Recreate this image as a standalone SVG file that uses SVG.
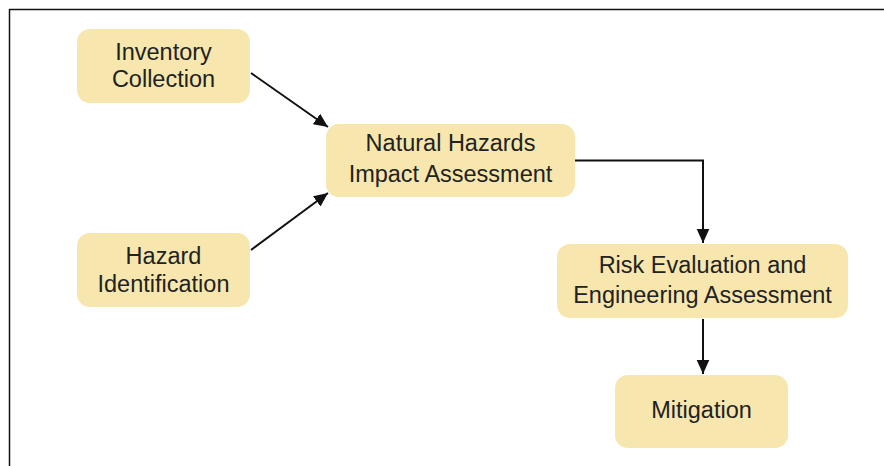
<svg xmlns="http://www.w3.org/2000/svg" width="884" height="466" viewBox="0 0 884 466">
<style>
.box{fill:#F7E7AE;stroke:none}
.lbl{font-family:"Liberation Sans",Arial,sans-serif;font-size:23.5px;fill:#222;text-anchor:middle}
.con{stroke:#111;stroke-width:2;fill:none}
</style>
<defs>
<marker id="ah2" viewBox="0 0 10 10" refX="10" refY="5" markerWidth="14" markerHeight="14" markerUnits="userSpaceOnUse" orient="auto">
<path d="M0,0.5 L10,5 L0,9.5 z" fill="#111"/>
</marker>
</defs>
<rect x="0" y="0" width="884" height="466" fill="#fff"/>
<g id="frame">
<line x1="9" y1="9.5" x2="884" y2="9.5" stroke="#111" stroke-width="1.5"/>
<line x1="9.5" y1="9" x2="9.5" y2="466" stroke="#111" stroke-width="1.5"/>
</g>
<g id="connectors">
<line class="con" x1="251" y1="73" x2="328" y2="127" marker-end="url(#ah2)"/>
<line class="con" x1="251" y1="250" x2="328" y2="193" marker-end="url(#ah2)"/>
<polyline class="con" points="575,160.5 703,160.5 703,243" marker-end="url(#ah2)"/>
<line class="con" x1="703" y1="319" x2="703" y2="374" marker-end="url(#ah2)"/>
</g>
<g id="inventory">
<rect class="box" x="77" y="29" width="173" height="74" rx="13"/>
<text class="lbl" x="163.5" y="60">Inventory</text>
<text class="lbl" x="163.5" y="87">Collection</text>
</g>
<g id="hazard">
<rect class="box" x="77" y="233" width="173" height="74" rx="13"/>
<text class="lbl" x="163.5" y="264">Hazard</text>
<text class="lbl" x="163.5" y="292">Identification</text>
</g>
<g id="nhia">
<rect class="box" x="326" y="124" width="249" height="73" rx="13"/>
<text class="lbl" x="450.5" y="151">Natural Hazards</text>
<text class="lbl" x="450.5" y="182">Impact Assessment</text>
</g>
<g id="risk">
<rect class="box" x="557" y="244" width="291" height="74" rx="13"/>
<text class="lbl" x="702.5" y="273">Risk Evaluation and</text>
<text class="lbl" x="702.5" y="303">Engineering Assessment</text>
</g>
<g id="mitigation">
<rect class="box" x="615" y="375" width="173" height="73" rx="13"/>
<text class="lbl" x="701.5" y="418">Mitigation</text>
</g>
</svg>
